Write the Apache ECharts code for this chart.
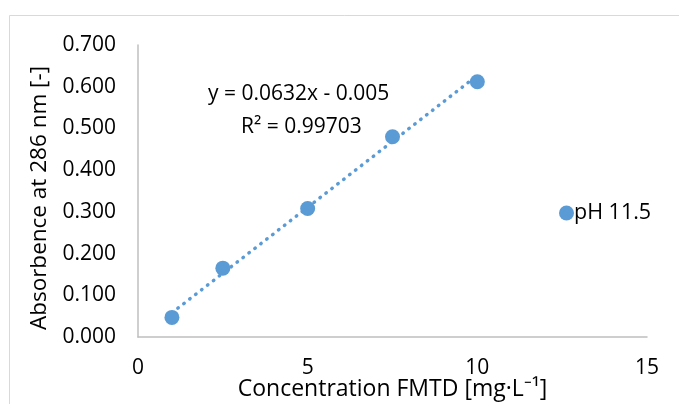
<!DOCTYPE html>
<html>
<head>
<meta charset="utf-8">
<script src="https://cdn.jsdelivr.net/npm/echarts@6/dist/echarts.min.js"></script>
<style>html,body{margin:0;padding:0;background:#fff}#c{width:679px;height:404px}</style>
</head>
<body>
<div id="c"></div>
<script>
var seriesName = 'pH 11.5';
var concentration = [1, 2.5, 5, 7.5, 10];
var absorbance = [0.047, 0.165, 0.308, 0.480, 0.612];
var trendX = [1, 10];
var trendY = [0.058, 0.627];
var equationText = 'y = 0.0632x - 0.005';
var r2Text = 'R² = 0.99703';
var xTitle = 'Concentration FMTD [mg·L⁻¹]';
var yTitle = 'Absorbence at 286 nm [-]';

var FONT = 'Open Sans';
var COLOR = '#5B9BD5';
var chart = echarts.init(document.getElementById('c'), null, {renderer: 'canvas'});
var option = {
  animation: false,
  backgroundColor: '#fff',
  textStyle: {fontFamily: FONT},
  grid: {left: 138, right: 32, top: 45, bottom: 67, containLabel: false, outerBoundsMode: 'none'},
  legend: {
    data: [seriesName],
    left: 554, top: 197,
    icon: 'circle', itemWidth: 15, itemHeight: 15, itemGap: 4,
    textStyle: {fontFamily: FONT, fontSize: 21.5, color: '#000', padding: [0,0,0,-5]}
  },
  xAxis: {
    type: 'value', min: 0, max: 15, interval: 5,
    name: xTitle, nameLocation: 'middle', nameGap: 41, nameMoveOverlap: false,
    nameTextStyle: {fontFamily: FONT, fontSize: 23, color: '#000'},
    axisLine: {show: true, lineStyle: {color: '#BFBFBF', width: 1.5}},
    axisTick: {show: false},
    splitLine: {show: false},
    axisLabel: {fontFamily: FONT, fontSize: 21, color: '#000', margin: 21}
  },
  yAxis: {
    type: 'value', min: 0, max: 0.7, interval: 0.1,
    axisLine: {show: true, lineStyle: {color: '#BFBFBF', width: 1.5}},
    axisTick: {show: false},
    splitLine: {show: false},
    axisLabel: {fontFamily: FONT, fontSize: 21, color: '#000', margin: 22,
      formatter: function (v) { return v.toFixed(3); }}
  },
  graphic: [
    {type: 'rect', silent: true, z: -1, shape: {x: 9.5, y: 15.5, width: 700, height: 420},
      style: {fill: null, stroke: '#D9D9D9', lineWidth: 1}},
    {type: 'text', x: 40, y: 198, rotation: Math.PI / 2,
      style: {text: yTitle, fontFamily: FONT, fontSize: 22.5, fill: '#000', align: 'center', verticalAlign: 'middle'}},
    {type: 'text', left: 208, top: 84, style: {text: equationText, fontFamily: FONT, fontSize: 21, fill: '#000'}},
    {type: 'text', left: 241, top: 117, style: {text: r2Text, fontFamily: FONT, fontSize: 21, fill: '#000'}}
  ],
  series: [
    {
      name: 'trend', type: 'line', data: trendX.map(function (x, i) { return [x, trendY[i]]; }),
      symbol: 'none', silent: true, z: 1,
      lineStyle: {color: COLOR, width: 3.5, type: [0.5, 7], cap: 'round'}
    },
    {
      name: seriesName, type: 'scatter', z: 2,
      data: concentration.map(function (x, i) { return [x, absorbance[i]]; }),
      symbol: 'circle', symbolSize: 15,
      itemStyle: {color: COLOR, opacity: 1}
    }
  ]
};
chart.setOption(option);
</script>
</body>
</html>
